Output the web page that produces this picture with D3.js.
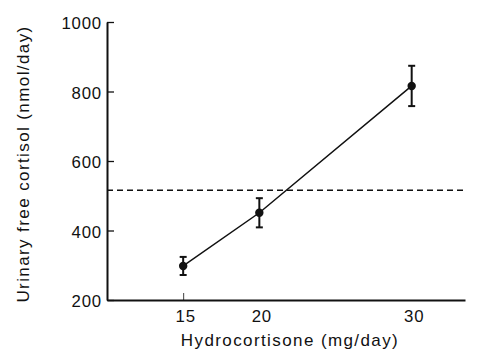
<!DOCTYPE html>
<html><head><meta charset="utf-8">
<script src="https://cdn.jsdelivr.net/npm/d3@7"></script>
<style>
html,body{margin:0;padding:0;background:#fff;}
svg{display:block;}
text{font-family:"Liberation Sans",Arial,Helvetica,sans-serif;fill:#111;}
</style></head>
<body>
<svg id="c" width="481" height="362"></svg>
<script>
const doses = [15, 20, 30];
const means = [298, 451, 816];
const errors = [26, 42, 58];
const yTicks = [200, 400, 600, 800, 1000];
const xTicks = [15, 20, 30];
const xTicksWithMark = [15];
const referenceValue = 516;
const xTitle = "Hydrocortisone (mg/day)";
const yTitle = "Urinary free cortisol (nmol/day)";

const svg = d3.select("#c");
const x = d3.scaleLinear().domain([10, 33.5]).range([107, 465]);
const y = d3.scaleLinear().domain([200, 1000]).range([300, 22]);
const ink = "#111";

// Y axis
const ya = svg.append("g").attr("transform", `translate(${x(10)},0)`)
  .call(d3.axisLeft(y).tickValues(yTicks).tickFormat(d3.format("d"))
    .tickSizeInner(-7).tickSizeOuter(0).tickPadding(13));
ya.select(".domain").attr("stroke", ink).attr("stroke-width", 2);
ya.selectAll(".tick line").attr("stroke", ink).attr("stroke-width", 1.3);
ya.selectAll(".tick text").attr("font-size", 16.8).attr("letter-spacing", 0.8)
  .attr("fill", ink).attr("dy", "0.4em").attr("x", -5);

// X axis
const xa = svg.append("g").attr("transform", `translate(0,${y(200)})`)
  .call(d3.axisBottom(x).tickValues(xTicks).tickFormat(d3.format("d"))
    .tickSizeInner(-7).tickSizeOuter(0).tickPadding(12));
xa.select(".domain").attr("stroke", ink).attr("stroke-width", 2);
xa.selectAll(".tick line").attr("stroke", ink).attr("stroke-width", 1)
  .attr("opacity", d => xTicksWithMark.includes(d) ? 0.8 : 0);
xa.selectAll(".tick text").attr("font-size", 16.8).attr("letter-spacing", 0.8)
  .attr("fill", ink).attr("y", 22).attr("dy", 0).attr("dx", 2);

// Reference dashed line
svg.append("line")
  .attr("x1", x(10)).attr("x2", x(33.5))
  .attr("y1", y(referenceValue)).attr("y2", y(referenceValue))
  .attr("stroke", ink).attr("stroke-width", 1.5).attr("stroke-dasharray", "6,4");

// Data line
const pts = doses.map((d, i) => ({d, m: means[i], e: errors[i]}));
svg.append("path").datum(pts)
  .attr("d", d3.line().x(p => x(p.d)).y(p => y(p.m)))
  .attr("fill", "none").attr("stroke", ink).attr("stroke-width", 1.5);

// Error bars
const eb = svg.append("g").selectAll("g").data(pts).join("g");
eb.append("line").attr("x1", p => x(p.d)).attr("x2", p => x(p.d))
  .attr("y1", p => y(p.m + p.e)).attr("y2", p => y(p.m - p.e))
  .attr("stroke", ink).attr("stroke-width", 2);
[1, -1].forEach(s => {
  eb.append("line").attr("x1", p => x(p.d) - 3.5).attr("x2", p => x(p.d) + 3.5)
    .attr("y1", p => y(p.m + s * p.e)).attr("y2", p => y(p.m + s * p.e))
    .attr("stroke", ink).attr("stroke-width", 2);
});
eb.append("circle").attr("cx", p => x(p.d)).attr("cy", p => y(p.m)).attr("r", 4.2).attr("fill", ink);

// Titles
svg.append("text").attr("x", 290).attr("y", 346).attr("text-anchor", "middle")
  .attr("font-size", 17).attr("letter-spacing", 1.4).text(xTitle);
svg.append("text").attr("transform", "translate(29,164) rotate(-90)").attr("text-anchor", "middle")
  .attr("font-size", 17).attr("letter-spacing", 1.4).text(yTitle);
</script>
</body></html>
